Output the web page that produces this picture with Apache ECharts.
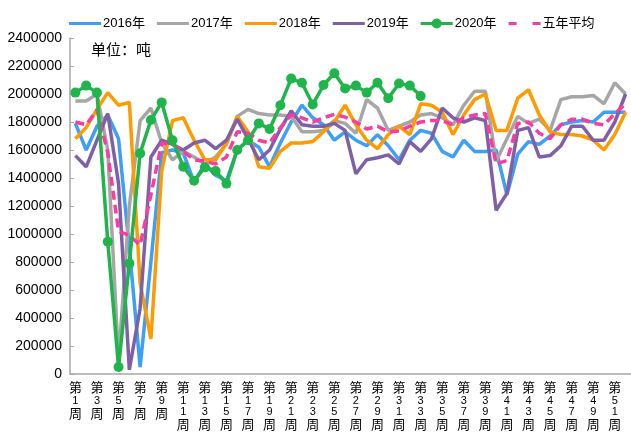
<!DOCTYPE html>
<html>
<head>
<meta charset="utf-8">
<script src="https://cdn.jsdelivr.net/npm/echarts@6/dist/echarts.min.js"></script>
<style>
  html, body { margin: 0; padding: 0; background: #fff; }
  #chart { width: 631px; height: 446px; }
</style>
</head>
<body>
<div id="chart"></div>
<script>
// 周次
var weeks = ['第1周','第2周','第3周','第4周','第5周','第6周','第7周','第8周','第9周','第10周',
  '第11周','第12周','第13周','第14周','第15周','第16周','第17周','第18周','第19周','第20周',
  '第21周','第22周','第23周','第24周','第25周','第26周','第27周','第28周','第29周','第30周',
  '第31周','第32周','第33周','第34周','第35周','第36周','第37周','第38周','第39周','第40周',
  '第41周','第42周','第43周','第44周','第45周','第46周','第47周','第48周','第49周','第50周',
  '第51周','第52周'];

var y2016 = [1790000,1600000,1770000,1850000,1680000,900000,50000,800000,1580000,1600000,
  1580000,1370000,1500000,1420000,1380000,1600000,1670000,1620000,1480000,1650000,
  1800000,1920000,1830000,1780000,1670000,1730000,1670000,1630000,1710000,1630000,
  1530000,1670000,1740000,1720000,1590000,1550000,1670000,1590000,1590000,1600000,
  1280000,1570000,1660000,1640000,1700000,1780000,1800000,1810000,1800000,1870000,
  1870000,1870000];

var y2017 = [1950000,1950000,2000000,1600000,100000,1200000,1810000,1900000,1650000,1530000,
  1590000,1550000,1500000,1550000,1640000,1840000,1890000,1860000,1850000,1850000,
  1840000,1730000,1730000,1740000,1810000,1790000,1720000,1960000,1900000,1740000,
  1770000,1800000,1850000,1860000,1830000,1780000,1920000,2020000,2020000,1520000,
  1680000,1840000,1790000,1820000,1740000,1960000,1980000,1980000,1990000,1930000,
  2080000,2000000];

var y2018 = [1680000,1760000,1890000,2010000,1920000,1940000,650000,250000,1450000,1810000,
  1830000,1670000,1530000,1530000,1650000,1840000,1730000,1480000,1470000,1590000,
  1650000,1650000,1660000,1730000,1800000,1920000,1780000,1670000,1610000,1710000,
  1770000,1710000,1930000,1920000,1870000,1710000,1850000,1960000,2000000,1740000,
  1740000,1970000,2030000,1850000,1730000,1710000,1710000,1700000,1670000,1600000,
  1710000,1870000];

var y2019 = [1560000,1480000,1670000,1860000,1360000,30000,470000,1550000,1670000,1640000,
  1600000,1650000,1670000,1610000,1670000,1820000,1680000,1530000,1600000,1750000,
  1880000,1780000,1770000,1770000,1790000,1740000,1430000,1530000,1545000,1565000,
  1500000,1660000,1590000,1680000,1900000,1830000,1800000,1830000,1810000,1170000,
  1290000,1740000,1760000,1550000,1560000,1630000,1770000,1770000,1670000,1670000,
  1800000,2000000];

var y2020 = [2010000,2060000,2010000,945000,50000,790000,1576000,1814000,1940000,1670000,
  1480000,1380000,1476000,1450000,1360000,1600000,1670000,1790000,1750000,1920000,
  2110000,2080000,1925000,2064000,2148000,2040000,2060000,2010000,2080000,1970000,
  2075000,2060000,1985000];

// 五年平均
var avg5 = [1800000,1780000,1886000,1580000,1020000,990000,920000,1280000,1650000,1640000,
  1590000,1530000,1520000,1500000,1550000,1730000,1720000,1670000,1650000,1760000,
  1850000,1830000,1800000,1830000,1855000,1835000,1800000,1750000,1770000,1730000,
  1735000,1770000,1800000,1810000,1810000,1780000,1830000,1850000,1860000,1500000,
  1525000,1790000,1800000,1720000,1680000,1780000,1820000,1820000,1790000,1780000,
  1860000,1930000];

var axisColor = '#a6a6a6';

// 图例图标
var iconLine = 'path://M0,0 H32 V3 H0 Z';
var iconDash = 'path://M0,0 H8 V3 H0 Z M24,0 H32 V3 H24 Z';
var iconDot = 'path://M0,4.5 H32 V7.5 H0 Z M11,6 A5,5 0 1,1 21,6 A5,5 0 1,1 11,6 Z';

function lineSerie(name, data, color) {
  return {
    name: name,
    type: 'line',
    data: data,
    symbol: 'none',
    lineStyle: { width: 3.5, color: color },
    itemStyle: { color: color }
  };
}

var series = [
  lineSerie('2016年', y2016, '#3d9ff5'),
  lineSerie('2017年', y2017, '#a6a6a6'),
  lineSerie('2018年', y2018, '#ff9a00'),
  lineSerie('2019年', y2019, '#7f60a8'),
  {
    name: '五年平均',
    type: 'line',
    data: avg5,
    symbol: 'none',
    lineStyle: { width: 3.5, color: '#fa3ca2', type: [9, 5] },
    itemStyle: { color: '#fa3ca2' }
  },
  {
    name: '2020年',
    type: 'line',
    data: y2020,
    symbol: 'circle',
    symbolSize: 10,
    showAllSymbol: true,
    lineStyle: { width: 3.5, color: '#1fb54a' },
    itemStyle: { color: '#1fb54a' }
  }
];

var option = {
  animation: false,
  backgroundColor: '#fff',
  textStyle: { fontFamily: 'Liberation Sans, "Noto Sans CJK SC", sans-serif' },
  legend: {
    data: [
      { name: '2016年', icon: iconLine },
      { name: '2017年', icon: iconLine },
      { name: '2018年', icon: iconLine },
      { name: '2019年', icon: iconLine },
      { name: '2020年', icon: iconDot },
      { name: '五年平均', icon: iconDash }
    ],
    top: 12,
    left: 64,
    itemWidth: 32,
    itemHeight: 12,
    itemGap: 12,
    symbolKeepAspect: true,
    textStyle: { fontSize: 13, color: '#000', padding: [0, 0, 0, -3] }
  },
  graphic: [{
    type: 'text',
    left: 91,
    top: 42,
    style: { text: '单位：吨', fontSize: 15, fill: '#000', fontFamily: '"Noto Sans CJK SC", sans-serif' }
  }],
  grid: { left: 70, top: 38, width: 564, height: 336 },
  xAxis: {
    type: 'category',
    data: weeks,
    boundaryGap: true,
    axisLine: { lineStyle: { color: axisColor, width: 1.5 } },
    axisTick: { interval: 0, length: 5, lineStyle: { color: axisColor } },
    axisLabel: {
      interval: 1,
      margin: 6,
      color: '#000',
      formatter: function (v) {
        var n = v.replace('第', '').replace('周', '');
        return '{a|第}\n' + n.split('').map(function (d) { return '{d|' + d + '}'; }).join('\n') + '\n{a|周}';
      },
      rich: {
        a: { fontSize: 13, lineHeight: 15, fontFamily: '"Noto Sans CJK SC", sans-serif' },
        d: { fontSize: 11, lineHeight: 11 }
      }
    }
  },
  yAxis: {
    type: 'value',
    min: 0,
    max: 2400000,
    interval: 200000,
    splitLine: { show: false },
    axisLine: { show: true, lineStyle: { color: axisColor, width: 1.5 } },
    axisTick: { show: true, inside: true, length: 4, lineStyle: { color: axisColor } },
    axisLabel: {
      fontSize: 14,
      color: '#000',
      margin: 8,
      formatter: function (v) { return String(v); }
    }
  },
  series: series
};

var chart = echarts.init(document.getElementById('chart'));
chart.setOption(option);
</script>
</body>
</html>
